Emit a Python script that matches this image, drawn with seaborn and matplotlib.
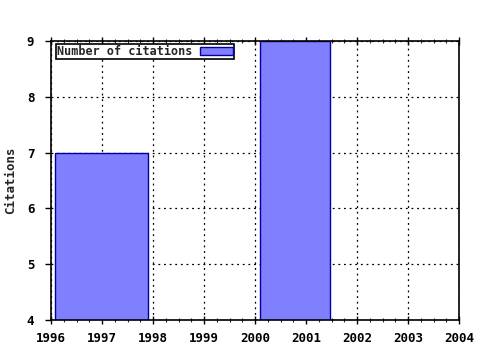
import matplotlib
matplotlib.use("Agg")
import matplotlib.pyplot as plt
from matplotlib.ticker import MultipleLocator
import seaborn as sns
import pandas as pd

bin_edges = [1996.08, 1997.9, 2000.1, 2001.47]
bar_centers = [1996.99, 2000.785]
citations = [7, 9]
x_ticks = [1996, 1997, 1998, 1999, 2000, 2001, 2002, 2003, 2004]
y_ticks = [4, 5, 6, 7, 8, 9]

sns.set_style("white")
plt.rcParams['font.family'] = ['DejaVu Sans Mono']
plt.rcParams['font.weight'] = 'bold'

df = pd.DataFrame({"year": bar_centers, "citations": citations})

fig = plt.figure(figsize=(4.8, 3.5), dpi=100)
ax = fig.add_axes([51/480, 30/350, 408/480, 279/350])

sns.histplot(data=df, x="year", weights="citations", bins=bin_edges, ax=ax,
             color="#8080ff", alpha=1, edgecolor="#0000a0", linewidth=1,
             label="Number of citations")

ax.set_xlim(1996, 2004)
ax.set_ylim(4, 9)
ax.set_xticks(x_ticks)
ax.set_xticklabels([str(t) for t in x_ticks])
ax.set_yticks(y_ticks)
ax.xaxis.set_minor_locator(MultipleLocator(0.25))
ax.grid(True, which='major', color='black', linestyle=(0, (1.5, 3)), linewidth=0.9)
ax.set_axisbelow(True)
for s in ax.spines.values():
    s.set_color('black')
    s.set_linewidth(1.2)
    s.set_visible(True)
ax.tick_params(axis='x', which='major', direction='inout', length=6, width=1,
               top=True, bottom=True, labelsize=9, colors='black', pad=6)
ax.tick_params(axis='x', which='minor', direction='inout', length=3, width=0.8,
               top=True, bottom=True)
ax.tick_params(axis='y', which='major', direction='out', length=4, width=1,
               left=True, right=False, labelsize=9, colors='black', pad=8)
ax.set_xlabel("")
ax.set_ylabel("Citations", fontsize=9, fontweight='bold', labelpad=7)

leg = ax.legend(loc='upper left', bbox_to_anchor=(0.012, 0.99), markerfirst=False,
                frameon=True, fancybox=False, prop={'size': 8.5, 'weight': 'bold'},
                borderpad=0.1, handlelength=2.8, handleheight=0.6, borderaxespad=0.0,
                handletextpad=0.6)
leg.get_frame().set_edgecolor('black')
leg.get_frame().set_linewidth(1.2)
leg.get_frame().set_alpha(1)

fig.savefig("out.png", dpi=100)
